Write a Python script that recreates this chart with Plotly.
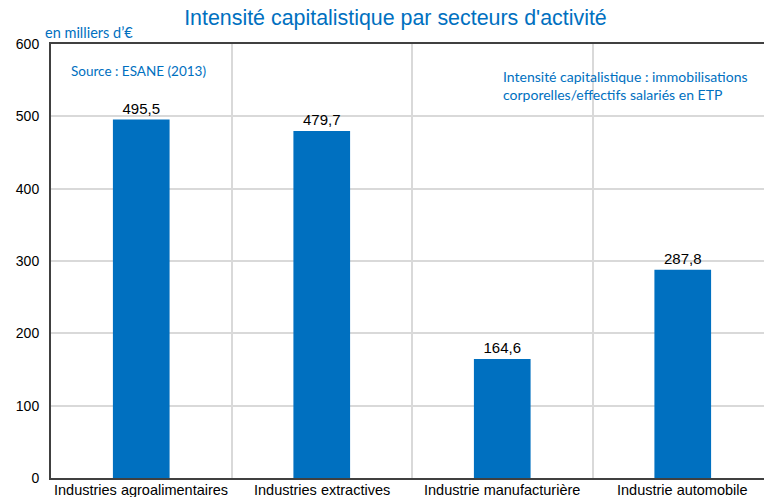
import plotly.graph_objects as go

categories = ["Industries agroalimentaires", "Industries extractives",
              "Industrie manufacturière", "Industrie automobile"]
values = [495.5, 479.7, 164.6, 287.8]
y_ticks = [0, 100, 200, 300, 400, 500, 600]

BLUE = "#0070C0"
FONT = "Arial, Liberation Sans"
NOTE_FONT = "Lato, Open Sans"

fig = go.Figure(go.Bar(
    x=categories, y=values,
    marker=dict(color=BLUE, line=dict(width=0)),
    texttemplate="%{y:.1f}", textposition="outside",
    textfont=dict(family=FONT, size=15, color="#000"),
    cliponaxis=False,
))

# the original chart's plot area runs slightly past the right edge of the window
fig.update_layout(
    width=773, height=497,
    margin=dict(l=51, r=0, t=44, b=19, autoexpand=False),
    paper_bgcolor="white", plot_bgcolor="white",
    separators=", ",
    bargap=0.686,
    showlegend=False,
    title=dict(text="Intensité capitalistique par secteurs d'activité",
               xref="container", yref="container",
               x=0.5116, xanchor="center", y=0.964, yanchor="middle",
               font=dict(family=FONT, size=21.4, color=BLUE)),
    xaxis=dict(type="category", tickson="boundaries", showgrid=True,
               gridcolor="#d9d9d9", gridwidth=1.5,
               ticks="", ticklen=0, showline=True, linecolor="#404040", linewidth=2, mirror=True,
               showticklabels=False,
               range=[-0.5, 3.5], automargin=False),
    yaxis=dict(range=[0, 600], tickvals=y_ticks, showgrid=True,
               gridcolor="#d9d9d9", gridwidth=2,
               showline=True, linecolor="#404040", linewidth=2,
               ticks="", ticklabelstandoff=7,
               tickfont=dict(family=FONT, size=14, color="#000"),
               zeroline=False, automargin=False),
)

# category labels placed on the category axis just under the baseline
for cat in categories:
    fig.add_annotation(text=cat, x=cat, xref="x", y=0, yref="paper",
                       xanchor="center", yanchor="top", yshift=-2, showarrow=False,
                       font=dict(family=FONT, size=14.5, color="#000"))

fig.add_annotation(text="en milliers d’€", xref="paper", yref="paper",
                   x=-0.0111, y=1.0276, xanchor="left", yanchor="middle", showarrow=False,
                   font=dict(family=NOTE_FONT, size=14.5, color=BLUE))
fig.add_annotation(text="Source : ESANE (2013)", xref="paper", yref="paper",
                   x=0.0249, y=0.9378, xanchor="left", yanchor="middle", showarrow=False,
                   font=dict(family=NOTE_FONT, size=13.5, color=BLUE))
fig.add_annotation(text="Intensité capitalistique : immobilisations<br>corporelles/effectifs salariés en ETP",
                   xref="paper", yref="paper",
                   x=0.623, y=0.9055, xanchor="left", yanchor="middle", showarrow=False,
                   align="left",
                   font=dict(family=NOTE_FONT, size=14, color=BLUE))

fig.write_html("out.html", config={"displayModeBar": False},
               post_script="document.body.style.margin='0';document.body.style.overflow='hidden';")
